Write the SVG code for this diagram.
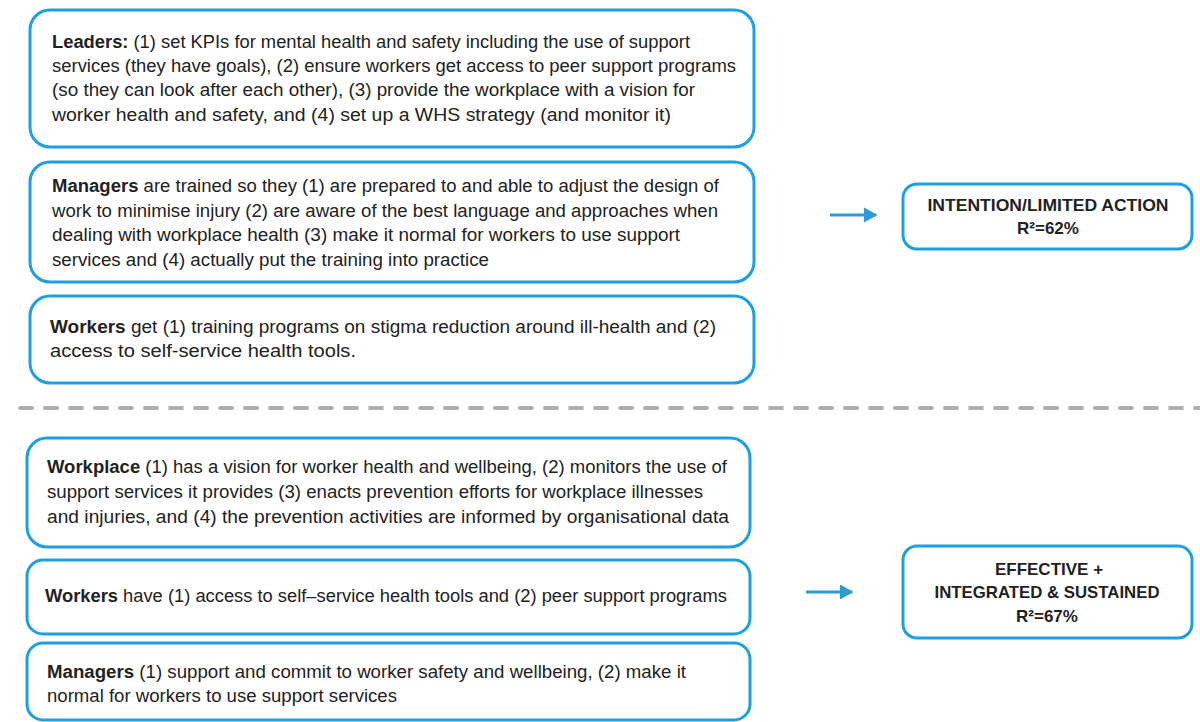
<svg xmlns="http://www.w3.org/2000/svg" width="1200" height="722" viewBox="0 0 1200 722">
<style>
.box{fill:#fff;stroke:#1E9FE0;stroke-width:3}
.t{font-family:"Liberation Sans",Arial,sans-serif;font-size:17.5px;fill:#222}
.b{font-weight:bold}
.c{font-family:"Liberation Sans",Arial,sans-serif;font-size:17px;font-weight:bold;fill:#222;text-anchor:middle}
.arr{stroke:#2E9AD8;stroke-width:3;fill:none}
</style>
<defs>
<marker id="ah" markerWidth="6" markerHeight="6" refX="4" refY="3" orient="auto" markerUnits="strokeWidth">
<path d="M0,0.5 L4.5,3 L0,5.5 z" fill="#2E9AD8"/>
</marker>
</defs>
<rect width="1200" height="722" fill="#fff"/>

<g id="leaders">
<rect class="box" x="30" y="10" width="724" height="137" rx="20"/>
<text class="t" x="52" y="48" textLength="638" lengthAdjust="spacingAndGlyphs"><tspan class="b">Leaders:</tspan> (1) set KPIs for mental health and safety including the use of support</text>
<text class="t" x="52" y="72" textLength="684" lengthAdjust="spacingAndGlyphs">services (they have goals), (2) ensure workers get access to peer support programs</text>
<text class="t" x="52" y="96" textLength="643" lengthAdjust="spacingAndGlyphs">(so they can look after each other), (3) provide the workplace with a vision for</text>
<text class="t" x="52" y="121" textLength="619" lengthAdjust="spacingAndGlyphs">worker health and safety, and (4) set up a WHS strategy (and monitor it)</text>
</g>

<g id="managers1">
<rect class="box" x="30" y="162" width="724" height="120" rx="20"/>
<text class="t" x="52" y="192" textLength="667" lengthAdjust="spacingAndGlyphs"><tspan class="b">Managers</tspan> are trained so they (1) are prepared to and able to adjust the design of</text>
<text class="t" x="52" y="217" textLength="666" lengthAdjust="spacingAndGlyphs">work to minimise injury (2) are aware of the best language and approaches when</text>
<text class="t" x="52" y="241" textLength="628" lengthAdjust="spacingAndGlyphs">dealing with workplace health (3) make it normal for workers to use support</text>
<text class="t" x="52" y="266" textLength="437" lengthAdjust="spacingAndGlyphs">services and (4) actually put the training into practice</text>
</g>

<g id="workers1">
<rect class="box" x="30" y="296" width="724" height="87" rx="20"/>
<text class="t" x="50" y="333" textLength="666" lengthAdjust="spacingAndGlyphs"><tspan class="b">Workers</tspan> get (1) training programs on stigma reduction around ill-health and (2)</text>
<text class="t" x="50" y="357" textLength="306" lengthAdjust="spacingAndGlyphs">access to self-service health tools.</text>
</g>

<g id="intention">
<rect class="box" x="903" y="184" width="289" height="65" rx="14"/>
<text class="c" x="1048" y="211" textLength="241" lengthAdjust="spacingAndGlyphs">INTENTION/LIMITED ACTION</text>
<text class="c" x="1048" y="234">R²=62%</text>
</g>

<g id="workplace">
<rect class="box" x="27" y="438" width="723" height="109" rx="20"/>
<text class="t" x="47" y="473" textLength="680" lengthAdjust="spacingAndGlyphs"><tspan class="b">Workplace</tspan> (1) has a vision for worker health and wellbeing, (2) monitors the use of</text>
<text class="t" x="47" y="498" textLength="656" lengthAdjust="spacingAndGlyphs">support services it provides (3) enacts prevention efforts for workplace illnesses</text>
<text class="t" x="47" y="523" textLength="682" lengthAdjust="spacingAndGlyphs">and injuries, and (4) the prevention activities are informed by organisational data</text>
</g>

<g id="workers2">
<rect class="box" x="27" y="560" width="723" height="74" rx="16"/>
<text class="t" x="45" y="602" textLength="682" lengthAdjust="spacingAndGlyphs"><tspan class="b">Workers</tspan> have (1) access to self–service health tools and (2) peer support programs</text>
</g>

<g id="managers2">
<rect class="box" x="27" y="643" width="723" height="77" rx="16"/>
<text class="t" x="47" y="678" textLength="639" lengthAdjust="spacingAndGlyphs"><tspan class="b">Managers</tspan> (1) support and commit to worker safety and wellbeing, (2) make it</text>
<text class="t" x="47" y="702" textLength="350" lengthAdjust="spacingAndGlyphs">normal for workers to use support services</text>
</g>

<g id="effective">
<rect class="box" x="903" y="546" width="289" height="92" rx="14"/>
<text class="c" x="1049" y="575">EFFECTIVE +</text>
<text class="c" x="1047" y="598" textLength="225" lengthAdjust="spacingAndGlyphs">INTEGRATED &amp; SUSTAINED</text>
<text class="c" x="1047" y="622">R²=67%</text>
</g>

<g id="connectors">
<line x1="8" y1="408" x2="1200" y2="408" stroke="#AEAEAE" stroke-width="4" stroke-linecap="round" stroke-dasharray="12,13" stroke-dashoffset="-12"/>
<line class="arr" x1="830" y1="215" x2="876" y2="215" marker-end="url(#ah)"/>
<line class="arr" x1="806" y1="592" x2="852" y2="592" marker-end="url(#ah)"/>
</g>
</svg>
